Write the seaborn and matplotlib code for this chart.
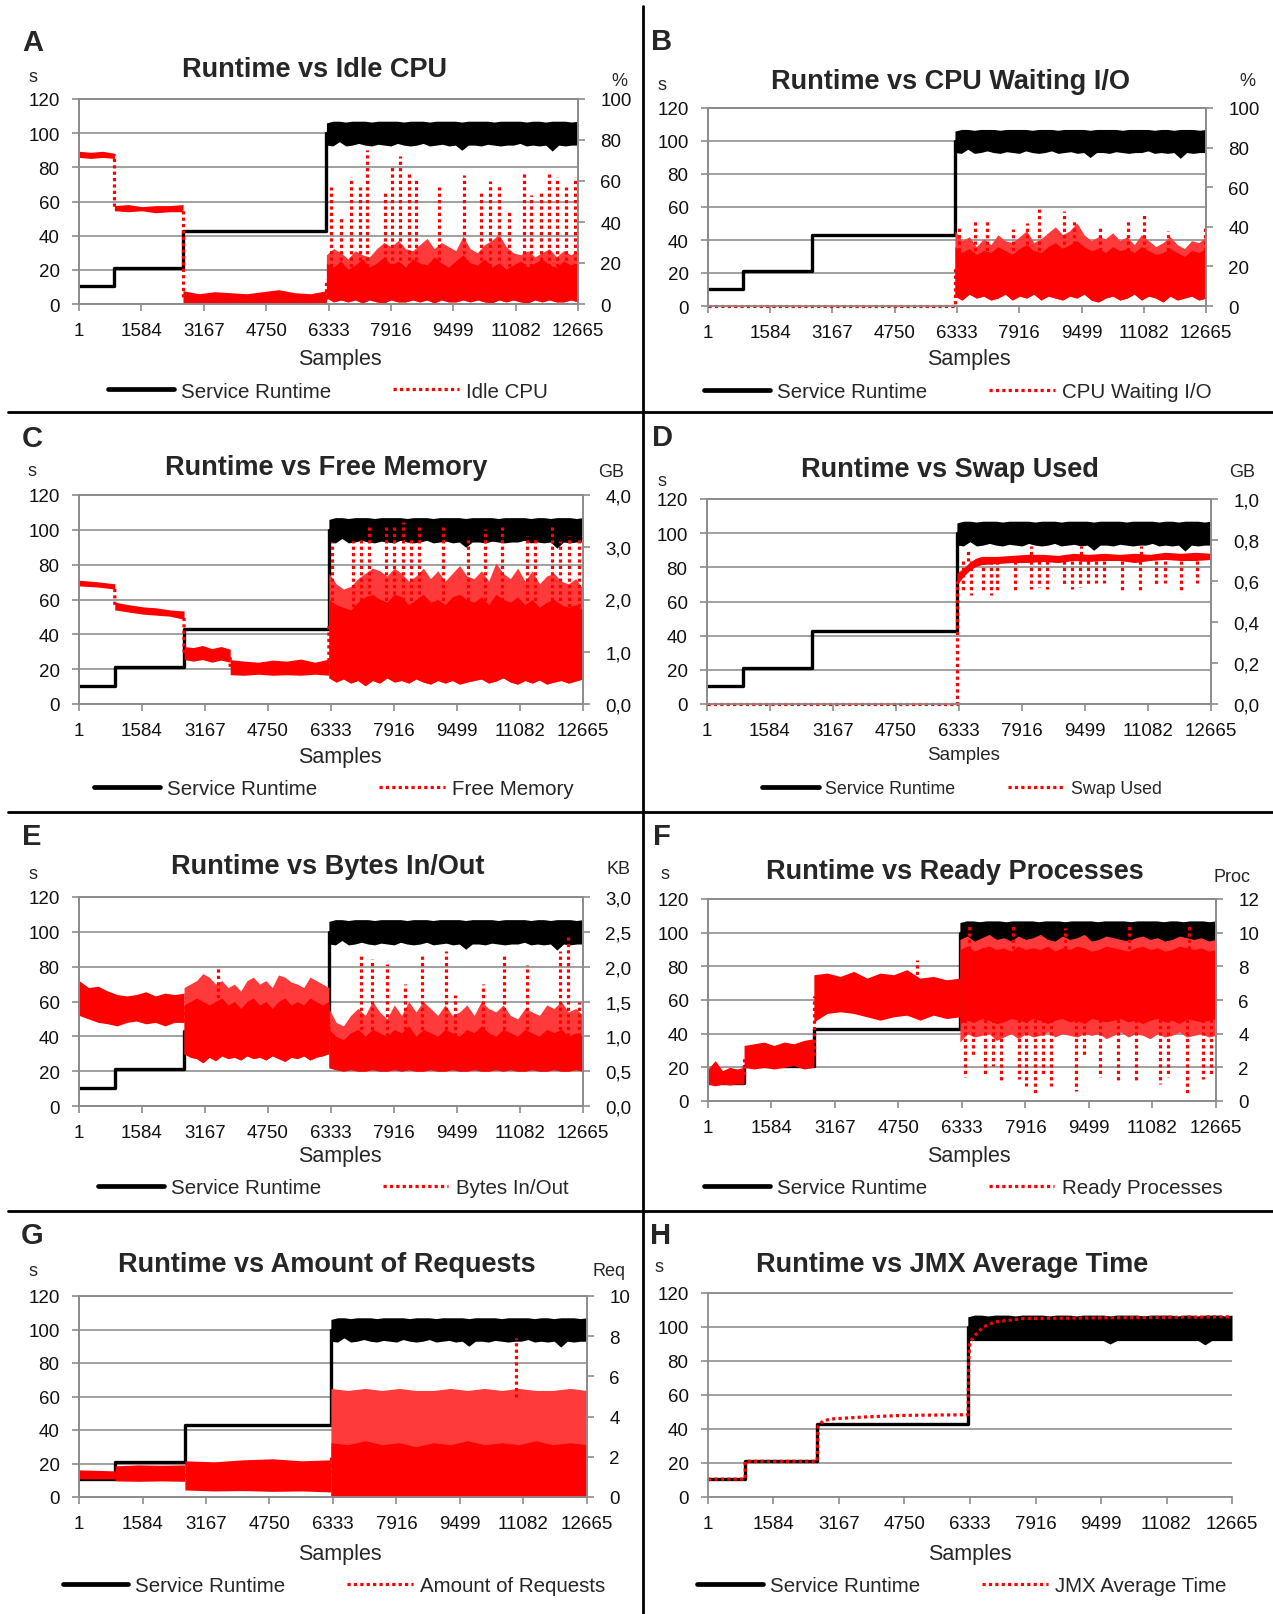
import numpy as np
import matplotlib
matplotlib.use("Agg")
import matplotlib.pyplot as plt
from matplotlib.lines import Line2D
from matplotlib.ticker import FuncFormatter
import seaborn as sns

W, H = 1273, 1615
SAMPLE_TICKS = [1, 1584, 3167, 4750, 6333, 7916, 9499, 11082, 12665]
X_END = 12665

# Service Runtime (s), shared by every panel
runtime_steps_x = [1, 900, 900, 2640, 2640, 6280, 6280]
runtime_steps_y = [10.5, 10.5, 21, 21, 43, 43, 100]
runtime_band_hi = [106, 107, 107, 106.5, 107, 107, 107, 106.5, 107, 107,
                   107, 107, 106.5, 107, 107, 107, 106.5, 107, 107, 107,
                   107, 106.5, 107, 107, 107, 107, 106.5, 107, 107, 107,
                   107, 106.5, 107, 107, 106.5, 107, 107, 107, 106.5, 107]
runtime_band_lo = [93, 92.5, 95, 92.5, 93, 94, 93, 92.5, 93.5, 93,
                   92.5, 94, 93, 92.5, 93, 94, 92.5, 93, 93.5, 92.5,
                   93, 90, 93, 93, 92.5, 93.5, 93, 92.5, 93, 93,
                   94, 92.5, 93, 92.5, 93, 89.5, 93, 92.5, 93, 93]

# A: Idle CPU (%)
idle_x = [1, 900, 900, 2640, 2640, 6280, 6280]
idle_y = [72.5, 72.5, 46.5, 46.5, 3, 3, 12]
idle_core_lo = [3, 1, 2, 1, 2, 0.5, 2, 1, 0.5, 2, 1, 1,
                2, 1, 2, 0.5, 2, 1, 1, 2, 1, 2, 1, 0.5,
                2, 1, 2, 1, 0.5, 2, 1, 2, 1, 1, 2, 1]
idle_core_hi = [20, 18, 21, 17, 19, 22, 18, 20, 23, 19, 21, 18,
                22, 20, 19, 23, 20, 18, 21, 24, 20, 19, 22, 18,
                20, 17, 19, 21, 18, 20, 22, 19, 18, 21, 19, 20]
idle_outer_hi = [24, 27, 25, 22, 26, 24, 23, 27, 30, 28, 31, 27,
                 26, 29, 32, 27, 30, 28, 26, 33, 27, 25, 29, 31,
                 34, 28, 25, 24, 26, 23, 25, 27, 23, 26, 24, 26]
idle_bands = [
    (1, 900, [71.5, 71, 71.5, 71], [74.5, 74, 74.5, 73.5]),
    (900, 2640, [45.5, 45, 45.5, 44.5, 45, 45], [48, 48.5, 47.5, 48, 48, 48.5]),
    (2640, 6280, [0.5, 0.3, 0.5, 0.3, 0.5, 0.3, 0.5, 0.5, 0.3, 0.5],
     [6.5, 5, 6, 5.5, 5, 6, 7, 5.5, 5, 6.5]),
    (6280, X_END, idle_core_lo, idle_core_hi),
]
idle_outer = [(6280, X_END, idle_core_lo, idle_outer_hi)]
idle_spike_x = [6407, 6650, 6892, 7124, 7304, 7757, 7937, 8158, 8370, 8549, 9150, 9784,
                10206, 10427, 10660, 10923, 11293, 11483, 11715, 11926, 12137, 12369, 12580]
idle_spike_y = [57, 42, 62, 57, 75, 54, 68, 72, 64, 61, 57, 63, 55, 60, 58, 45, 65, 53,
                54, 65, 62, 57, 62]

# B: CPU Waiting I/O (%)
wait_x = [1, 6280, 6280]
wait_y = [0, 0, 20]
wait_lo = [5, 3, 6, 4, 5, 3, 4, 6, 3, 5, 4, 6,
           3, 5, 4, 3, 5, 4, 6, 3, 2, 4, 5, 3,
           4, 6, 3, 5, 4, 2, 5, 3, 4, 5, 3, 4]
wait_core_hi = [30, 27, 29, 26, 28, 27, 30, 28, 26, 29, 31, 28,
                27, 30, 32, 29, 31, 33, 30, 28, 29, 27, 30, 28,
                29, 27, 30, 28, 26, 27, 29, 27, 25, 28, 27, 29]
wait_outer_hi = [38, 33, 35, 30, 34, 31, 36, 33, 32, 35, 38, 32,
                 34, 37, 40, 36, 38, 42, 36, 33, 35, 34, 37, 33,
                 35, 31, 36, 33, 30, 32, 35, 31, 29, 33, 32, 35]
wait_bands = [(6280, X_END, wait_lo, wait_core_hi)]
wait_outer = [(6280, X_END, wait_lo, wait_outer_hi)]
wait_spike_x = [6379, 6789, 7097, 7763, 8122, 8430, 9045, 9302, 9968, 10686, 11096, 11711, 12634]
wait_spike_y = [40, 43, 44, 39, 42, 49, 48, 44, 40, 43, 46, 38, 41]

# C: Free Memory (GB)
mem_x = [1, 900, 900, 2640, 2640, 3800, 3800, 6280, 6280]
mem_y = [2.3, 2.25, 1.88, 1.7, 1.0, 0.95, 0.7, 0.7, 1.5]
mem_late_lo = [0.5, 0.42, 0.48, 0.4, 0.45, 0.35, 0.45, 0.4, 0.5, 0.42, 0.45, 0.4,
               0.48, 0.42, 0.38, 0.45, 0.4, 0.45, 0.38, 0.42, 0.45, 0.48, 0.4, 0.44,
               0.5, 0.42, 0.38, 0.45, 0.4, 0.46, 0.38, 0.42, 0.45, 0.4, 0.44, 0.48]
mem_late_core = [2.0, 1.9, 1.85, 1.8, 1.95, 2.05, 2.1, 2.0, 1.95, 2.1, 2.05, 1.9,
                 2.0, 2.1, 1.95, 2.0, 1.9, 2.05, 2.1, 2.0, 1.95, 2.05, 1.9, 2.1,
                 2.0, 1.95, 2.05, 1.9, 2.0, 1.85, 1.95, 2.0, 1.9, 1.85, 1.9, 1.8]
mem_late_hi = [2.5, 2.3, 2.2, 2.25, 2.4, 2.5, 2.6, 2.55, 2.45, 2.6, 2.5, 2.35,
               2.45, 2.6, 2.4, 2.55, 2.35, 2.5, 2.65, 2.45, 2.4, 2.55, 2.35, 2.7,
               2.5, 2.4, 2.6, 2.35, 2.55, 2.3, 2.45, 2.5, 2.35, 2.3, 2.4, 2.2]
mem_bands = [
    (1, 900, [2.26, 2.24, 2.2], [2.37, 2.34, 2.3]),
    (900, 2640, [1.8, 1.76, 1.72, 1.7, 1.68, 1.62], [1.95, 1.9, 1.86, 1.84, 1.8, 1.78]),
    (2640, 3800, [0.85, 0.82, 0.85, 0.8, 0.84, 0.8], [1.1, 1.08, 1.12, 1.06, 1.1, 1.05]),
    (3800, 6280, [0.56, 0.55, 0.57, 0.55, 0.56, 0.55, 0.57, 0.55],
     [0.85, 0.82, 0.8, 0.84, 0.82, 0.86, 0.8, 0.86]),
    (6280, X_END, mem_late_lo, mem_late_core),
]
mem_outer = [(6280, X_END, mem_late_lo, mem_late_hi)]
mem_spike_x = [6350, 6880, 7089, 7297, 7714, 7922, 8131, 8339, 8548, 9153, 9778, 10195,
               10633, 11258, 11467, 11884, 12092, 12301, 12561]
mem_spike_y = [3.1, 3.12, 3.16, 3.44, 3.38, 3.38, 3.48, 3.19, 3.44, 3.38, 3.16, 3.35,
               3.38, 3.22, 3.16, 3.44, 3.12, 3.22, 3.16]

# D: Swap Used (GB)
swap_x = [1, 6280, 6280]
swap_y = [0, 0, 0.6]
swap_bands = [
    (6280, 6900, [0.58, 0.62, 0.65, 0.67, 0.68], [0.64, 0.66, 0.69, 0.71, 0.72]),
    (6900, X_END, [0.68, 0.685, 0.69, 0.69, 0.695, 0.69, 0.7, 0.695, 0.7, 0.7, 0.69,
                   0.7, 0.705, 0.7, 0.7, 0.705],
     [0.72, 0.72, 0.725, 0.73, 0.73, 0.725, 0.735, 0.73, 0.735, 0.73, 0.735, 0.73, 0.74,
      0.735, 0.74, 0.735]),
]
swap_spike_x = [6424, 6627, 6932, 7135, 7287, 7744, 8149, 8352, 8555, 8961, 9164, 9367,
                9570, 9773, 9976, 10433, 10889, 11295, 11498, 11904, 12310,
                6550, 8150, 9400, 10900]
swap_spike_y = [0.54, 0.53, 0.55, 0.53, 0.54, 0.55, 0.56, 0.57, 0.56, 0.58, 0.56, 0.57,
                0.58, 0.59, 0.59, 0.55, 0.55, 0.58, 0.59, 0.54, 0.59,
                0.75, 0.77, 0.77, 0.77]

# E: Bytes In/Out (KB)
bytes_x = [1, 2640, 2640, 6280, 6280]
bytes_y = [1.45, 1.4, 1.2, 1.2, 0.8]
bytes_mid_lo = [0.75, 0.7, 0.68, 0.62, 0.7, 0.65, 0.72, 0.68, 0.7, 0.66, 0.72, 0.68,
                0.7, 0.66, 0.72, 0.68, 0.64, 0.7, 0.68, 0.72, 0.66, 0.7, 0.72, 0.75]
bytes_mid_core = [1.45, 1.5, 1.55, 1.5, 1.45, 1.5, 1.55, 1.45, 1.5, 1.4, 1.5, 1.55,
                  1.45, 1.5, 1.4, 1.5, 1.55, 1.45, 1.5, 1.45, 1.55, 1.5, 1.45, 1.5]
bytes_mid_hi = [1.7, 1.75, 1.8, 1.9, 1.85, 1.75, 1.8, 1.7, 1.75, 1.65, 1.8, 1.85,
                1.75, 1.8, 1.7, 1.88, 1.85, 1.78, 1.75, 1.7, 1.85, 1.8, 1.75, 1.7]
bytes_late_lo = [0.55, 0.52, 0.5, 0.52, 0.5, 0.5, 0.52, 0.5, 0.5, 0.52, 0.5, 0.52,
                 0.5, 0.5, 0.52, 0.5, 0.5, 0.52, 0.5, 0.5, 0.52, 0.5, 0.5, 0.52,
                 0.5, 0.52, 0.5, 0.5, 0.52, 0.5, 0.5, 0.52, 0.5, 0.5, 0.52, 0.5]
bytes_late_core = [1.1, 1.0, 0.95, 1.05, 1.1, 1.0, 1.1, 1.05, 1.0, 1.1, 1.05, 1.15,
                   1.0, 1.1, 1.05, 1.0, 1.1, 1.05, 1.0, 1.1, 1.05, 1.15, 1.05, 1.0,
                   1.1, 1.05, 1.0, 1.1, 1.05, 1.0, 1.1, 1.05, 1.1, 1.0, 1.05, 1.0]
bytes_late_hi = [1.4, 1.2, 1.15, 1.3, 1.4, 1.3, 1.5, 1.35, 1.25, 1.45, 1.3, 1.5,
                 1.35, 1.5, 1.4, 1.3, 1.45, 1.3, 1.35, 1.45, 1.3, 1.5, 1.4, 1.35,
                 1.45, 1.3, 1.25, 1.4, 1.35, 1.3, 1.45, 1.4, 1.5, 1.35, 1.4, 1.3]
bytes_bands = [
    (1, 2640, [1.3, 1.25, 1.2, 1.18, 1.15, 1.2, 1.22, 1.18, 1.2, 1.15, 1.2, 1.2],
     [1.8, 1.7, 1.72, 1.65, 1.6, 1.58, 1.6, 1.64, 1.58, 1.62, 1.6, 1.62]),
    (2640, 6280, bytes_mid_lo, bytes_mid_core),
    (6280, X_END, bytes_late_lo, bytes_late_core),
]
bytes_outer = [(2640, 6280, bytes_mid_lo, bytes_mid_hi),
               (6280, X_END, bytes_late_lo, bytes_late_hi)]
bytes_spike_x = [3500, 7089, 7370, 7735, 8183, 8621, 9225, 9455, 10163, 10685, 11258,
                 12092, 12300, 12561]
bytes_spike_y = [2.0, 2.2, 2.11, 2.04, 1.75, 2.16, 2.23, 1.6, 1.75, 2.18, 2.02, 2.23,
                 2.42, 1.5]

# F: Ready Processes (Proc)
ready_x = [1, 900, 900, 2640, 2640, 6280, 6280]
ready_y = [1.4, 1.4, 2.7, 2.7, 6.2, 6.2, 7]
ready_late_lo = [3.5, 4, 3.8, 3.9, 4, 3.6, 3.8, 4, 3.7, 4, 3.8, 3.9,
                 4.1, 3.8, 4, 3.9, 3.8, 4, 3.9, 4, 3.7, 3.9, 4.1, 3.8,
                 4, 3.9, 3.7, 4, 3.8, 3.9, 4.1, 3.8, 3.9, 4, 3.8, 3.9]
ready_core_lo = [4.6, 4.8, 4.7, 4.9, 4.8, 4.6, 4.7, 4.9, 4.8, 4.7, 4.9, 4.8,
                 4.6, 4.8, 4.9, 4.7, 4.8, 4.6, 4.9, 4.8, 4.7, 4.8, 4.9, 4.7,
                 4.8, 4.6, 4.8, 4.9, 4.7, 4.8, 4.6, 4.9, 4.8, 4.7, 4.8, 4.9]
ready_core_hi = [9.0, 9.2, 8.9, 9.1, 9.2, 9.0, 9.1, 8.9, 9.2, 9.0, 9.1, 9.0,
                 9.2, 8.9, 9.1, 9.0, 9.2, 9.1, 8.9, 9.0, 9.2, 9.1, 9.0, 8.9,
                 9.1, 9.2, 9.0, 9.1, 8.9, 9.0, 9.2, 9.1, 9.0, 9.1, 8.9, 9.0]
ready_late_hi = [9.6, 9.8, 9.5, 9.7, 9.9, 9.6, 9.7, 9.5, 9.8, 9.6, 9.7, 9.9,
                 9.6, 9.5, 9.8, 9.6, 9.7, 9.9, 9.5, 9.6, 9.8, 9.7, 9.6, 9.5,
                 9.7, 9.8, 9.6, 9.7, 9.5, 9.6, 9.8, 9.7, 9.6, 9.7, 9.5, 9.6]
ready_bands = [
    (1, 900, [1.0, 0.9, 1.0, 0.95, 1.0, 1.0], [1.9, 2.4, 1.8, 2.0, 1.9, 2.0]),
    (900, 2640, [2.0, 1.9, 2.0, 1.9, 2.0, 2.1, 1.9, 2.0], [3.3, 3.4, 3.5, 3.3, 3.5, 3.4, 3.6, 3.7]),
    (2640, 6280, [4.7, 5.2, 5.3, 5.2, 5.0, 4.8, 5.0, 5.1, 4.8, 5.1, 4.9, 5.0],
     [7.5, 7.6, 7.4, 7.7, 7.3, 7.6, 7.5, 7.8, 7.3, 7.4, 7.2, 7.3]),
    (6280, X_END, ready_core_lo, ready_core_hi),
]
ready_outer = [(6280, X_END, ready_late_lo, ready_late_hi)]
ready_spike_x = [5200, 6403, 6604, 6905, 7107, 7308, 7760, 7931, 8142, 8363, 8564,
                 9167, 9368, 9770, 10222, 10674, 11277, 11478, 11930, 12333, 12534,
                 6500, 7600, 8900, 10500, 12000]
ready_spike_y = [8.4, 1.4, 2.6, 1.6, 2.1, 1.1, 1.3, 0.9, 0.4, 1.5, 0.9, 0.6, 2.7,
                 1.4, 1.2, 1.2, 1.0, 1.4, 0.4, 1.3, 1.6,
                 10.4, 10.5, 10.3, 10.5, 10.4]

# G: Amount of Requests (Req)
req_x = [1, 900, 900, 2640, 2640, 6280, 6280]
req_y = [1.1, 1.1, 1.2, 1.2, 1.0, 1.0, 2.0]
req_late_lo = [0, 0, 0, 0, 0, 0, 0, 0, 0, 0, 0, 0, 0, 0, 0, 0]
req_late_core = [2.7, 2.6, 2.8, 2.6, 2.7, 2.5, 2.7, 2.6, 2.8, 2.6, 2.7, 2.6, 2.8, 2.6, 2.7, 2.6]
req_late_hi = [5.4, 5.3, 5.4, 5.3, 5.4, 5.3, 5.3, 5.4, 5.3, 5.4, 5.3, 5.4, 5.3, 5.3, 5.4, 5.3]
req_bands = [
    (1, 900, [0.9, 0.9], [1.35, 1.3]),
    (900, 2640, [0.8, 0.78, 0.8, 0.78], [1.55, 1.6, 1.58, 1.6]),
    (2640, 6280, [0.35, 0.3, 0.32, 0.28, 0.3, 0.25], [1.8, 1.75, 1.85, 1.9, 1.8, 1.85]),
    (6280, X_END, req_late_lo, req_late_core),
]
req_outer = [(6280, X_END, req_late_lo, req_late_hi)]
req_spike_x = [10907]
req_spike_y = [7.9]

# H: JMX Average Time (s)
jmx_x = [1, 900, 900, 2640, 2660, 2800, 3040, 3725, 4700, 6290, 6300, 6330, 6450, 6650,
         6940, 7620, 9080, 12665]
jmx_y = [10.5, 10.5, 21, 21, 42, 45, 46, 47, 48, 48.4, 80, 91, 95, 100, 103, 105, 105.3, 106]

sns.set_theme(style="ticks")
plt.rcParams["font.family"] = ["Liberation Sans", "DejaVu Sans"]

GRAY = "#8c8c8c"
DOT = (0, (1, 1))
SPARSE_RED = "#ff3a3a"
fig = plt.figure(figsize=(W / 100, H / 100), dpi=100)


def fpos(x, y):
    return x / W, 1 - y / H


def comma_fmt(v, _):
    return f"{v:.1f}".replace(".", ",")


def panel(box, letter, letter_xy, title, title_xy, samples_xy, legend_xy, s_xy,
          red_label, red_x, red_y, bands, spike_x, spike_y, spike_base,
          unit=None, unit_xy=None, rmax=None, rstep=None, comma=False, small=False,
          outer=()):
    l, t, r, b = box
    ax = fig.add_axes([l / W, 1 - b / H, (r - l) / W, (b - t) / H])
    sns.lineplot(x=runtime_steps_x, y=runtime_steps_y, ax=ax, color="black",
                 linewidth=2.4, sort=False, estimator=None)
    band_x = np.linspace(6280, X_END, len(runtime_band_hi))
    lo_black = [min(v, 92) for v in runtime_band_lo] if rmax is None else runtime_band_lo
    ax.fill_between(band_x, lo_black, runtime_band_hi, color="black", lw=0)
    ax.set_xlim(1, X_END)
    ax.set_ylim(0, 120)
    ax.set_xticks(SAMPLE_TICKS)
    ax.set_yticks(range(0, 121, 20))
    ax.grid(axis="y", color="#a0a0a0", lw=1.4)
    ax.grid(axis="x", visible=False)
    ax.set_xlabel("")
    ax.set_ylabel("")
    ax.tick_params(axis="x", length=5, width=1.2, color=GRAY, pad=8, labelsize=13.5,
                   labelcolor="#111111")
    ax.tick_params(axis="y", length=5, width=1.2, color=GRAY, pad=9, labelsize=13.5,
                   labelcolor="#111111")

    if rmax is not None:
        ax2 = ax.twinx()
        ax2.set_ylim(0, rmax)
        ax2.set_yticks(np.arange(0, rmax + rstep / 2, rstep))
        if comma:
            ax2.yaxis.set_major_formatter(FuncFormatter(comma_fmt))
        else:
            ax2.yaxis.set_major_formatter(FuncFormatter(lambda v, _: f"{v:.0f}"))
        ax2.tick_params(axis="y", length=5, width=1.2, color=GRAY, pad=11, labelsize=13.5,
                        labelcolor="#111111")
        ax2.grid(False)
    else:
        ax2 = ax

    # sparse outer part of the noisy bands, then the dense core on top
    for x0, x1, lo, hi in outer:
        xs = np.linspace(x0, x1, len(lo))
        ax2.fill_between(xs, lo, hi, color=SPARSE_RED, lw=0)
    for x0, x1, lo, hi in bands:
        xs = np.linspace(x0, x1, len(lo))
        ax2.fill_between(xs, lo, hi, color="red", lw=0)
    if len(spike_x):
        ax2.vlines(spike_x, spike_base, spike_y, colors="red", linestyles=DOT,
                   linewidth=2.3)
    sns.lineplot(x=red_x, y=red_y, ax=ax2, color="red", linewidth=2.3, sort=False,
                 estimator=None, linestyle=DOT, clip_on=False)
    ax2.set_xlabel("")
    ax2.set_ylabel("")

    for a in {ax, ax2}:
        for sp in a.spines.values():
            sp.set_color(GRAY)
            sp.set_linewidth(1.3)
    if rmax is None:
        ax.spines["right"].set_visible(False)

    lab_fs = 13.5 if small else 15.5
    leg_fs = 12.8 if small else 14.8
    fig.text(*fpos(*letter_xy), letter, fontsize=21, fontweight="bold",
             ha="center", va="center")
    fig.text(*fpos(*title_xy), title, fontsize=19.5, fontweight="bold",
             ha="center", va="center")
    fig.text(*fpos(*samples_xy), "Samples", fontsize=lab_fs, ha="center", va="center")
    fig.text(*fpos(*s_xy), "s", fontsize=13, ha="center", va="center")
    if unit:
        fig.text(*fpos(*unit_xy), unit, fontsize=13, ha="center", va="center")
    handles = [Line2D([], [], color="black", lw=3.4),
               Line2D([], [], color="red", lw=2.3, linestyle=DOT)]
    fig.legend(handles, ["Service Runtime", red_label], loc="center",
               bbox_to_anchor=fpos(*legend_xy), ncol=2, frameon=False, fontsize=leg_fs,
               handlelength=3.2, handletextpad=0.35, columnspacing=3.0)


panel((79, 100, 578, 305), "A", (33, 43), "Runtime vs Idle CPU", (314, 70), (340, 360),
      (328, 392), (33, 77), "Idle CPU", idle_x, idle_y, idle_bands,
      idle_spike_x, idle_spike_y, 15, unit="%", unit_xy=(619, 81), rmax=100, rstep=20,
      outer=idle_outer)
panel((708, 109, 1206, 307), "B", (662, 42), "Runtime vs CPU Waiting I/O", (950, 82),
      (969, 360), (958, 393), (662, 85), "CPU Waiting I/O", wait_x, wait_y, wait_bands,
      wait_spike_x, wait_spike_y, 25, unit="%", unit_xy=(1247, 82), rmax=100, rstep=20,
      outer=wait_outer)
panel((79, 496, 583, 705), "C", (32, 439), "Runtime vs Free Memory", (326, 468),
      (340, 758), (334, 790), (32, 472), "Free Memory", mem_x, mem_y, mem_bands,
      mem_spike_x, mem_spike_y, 1.5, unit="GB", unit_xy=(611, 473), rmax=4, rstep=1,
      comma=True, outer=mem_outer)
panel((707, 500, 1211, 705), "D", (662, 438), "Runtime vs Swap Used", (950, 470),
      (964, 756), (962, 790), (662, 482), "Swap Used", swap_x, swap_y, swap_bands,
      swap_spike_x, swap_spike_y, 0.7, unit="GB", unit_xy=(1242, 473), rmax=1.0,
      rstep=0.2, comma=True, small=True)
panel((79, 898, 583, 1107), "E", (32, 837), "Runtime vs Bytes In/Out", (328, 867),
      (340, 1157), (333, 1189), (33, 875), "Bytes In/Out", bytes_x, bytes_y, bytes_bands,
      bytes_spike_x, bytes_spike_y, 1.0, unit="KB", unit_xy=(618, 870), rmax=3.0,
      rstep=0.5, comma=True, outer=bytes_outer)
panel((708, 900, 1216, 1102), "F", (662, 837), "Runtime vs Ready Processes", (955, 872),
      (969, 1157), (963, 1189), (665, 875), "Ready Processes", ready_x, ready_y,
      ready_bands, ready_spike_x, ready_spike_y, 6.0, unit="Proc", unit_xy=(1232, 878),
      rmax=12, rstep=2, outer=ready_outer)
panel((79, 1297, 587, 1498), "G", (32, 1236), "Runtime vs Amount of Requests", (327, 1265),
      (340, 1555), (334, 1587), (33, 1271), "Amount of Requests", req_x, req_y, req_bands,
      req_spike_x, req_spike_y, 5.0, unit="Req", unit_xy=(609, 1271), rmax=10, rstep=2,
      outer=req_outer)
panel((708, 1294, 1232, 1498), "H", (661, 1236), "Runtime vs JMX Average Time", (952, 1265),
      (970, 1555), (962, 1587), (659, 1268), "JMX Average Time", jmx_x, jmx_y, [],
      [], [], 0)

# panel separators
fig.add_artist(Line2D([643 / W, 643 / W], [0, 1 - 7 / H], color="black", lw=2))
for yy in (413, 813, 1212):
    fig.add_artist(Line2D([8 / W, 1], [1 - yy / H, 1 - yy / H], color="black", lw=2))

fig.savefig("out.png", dpi=100)
